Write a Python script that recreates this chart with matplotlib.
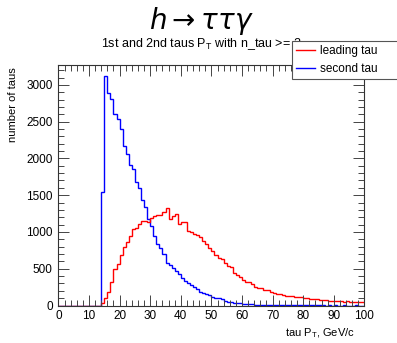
import numpy as np
import matplotlib
matplotlib.use("Agg")
import matplotlib.pyplot as plt
from matplotlib.ticker import MultipleLocator

# 1 GeV bins from 0 to 100
edges = np.arange(0, 101, 1)

second_tau = [0] * 14 + [
    1540, 3115, 2890, 2810, 2605, 2540, 2405, 2170, 2055, 1905,
    1860, 1675, 1595, 1440, 1335, 1175, 1075, 940, 840, 780,
    700, 580, 545, 510, 475, 435, 370, 335, 300, 285,
    255, 230, 190, 175, 155, 140, 120, 100, 98, 82,
    62, 52, 45, 40, 35, 30, 26, 22, 18, 16,
    13, 11, 9, 8, 7, 6, 5, 4, 4, 3,
    3, 3, 2, 2, 2, 2, 1, 1, 1, 1,
    1, 1, 1, 0, 1, 0, 1, 0, 0, 1,
    0, 0, 0, 1, 0, 0,
]

leading_tau = [0] * 14 + [
    30, 100, 190, 320, 500, 560, 690, 800, 870, 950,
    1040, 1055, 1110, 1145, 1155, 1130, 1190, 1220, 1230, 1235,
    1265, 1325, 1180, 1215, 1245, 1108, 1135, 1135, 1007, 993,
    975, 952, 925, 871, 835, 788, 743, 689, 652, 634,
    575, 543, 529, 439, 416, 393, 348, 325, 316, 289,
    257, 243, 234, 215, 205, 190, 170, 160, 155, 140,
    135, 130, 125, 120, 110, 112, 100, 98, 90, 88,
    85, 80, 70, 72, 60, 62, 58, 65, 55, 52,
    55, 50, 48, 52, 45, 44,
]

plt.rcParams['font.family'] = ['Liberation Sans', 'DejaVu Sans']

fig = plt.figure(figsize=(3.97, 3.43), dpi=100)
ax = fig.add_axes([58.4 / 397, 1 - 305.5 / 343, 306 / 397, 240.5 / 343])

ax.stairs(second_tau, edges, color='#0000ff', lw=1.0, label='second tau', baseline=None)
ax.stairs(leading_tau, edges, color='#ff0000', lw=1.0, label='leading tau', baseline=None)

ax.set_xlim(0, 100)
ax.set_ylim(0, 3270)
ax.xaxis.set_major_locator(MultipleLocator(10))
ax.xaxis.set_minor_locator(MultipleLocator(2))
ax.yaxis.set_major_locator(MultipleLocator(500))
ax.yaxis.set_minor_locator(MultipleLocator(100))
ax.tick_params(which='both', direction='in', top=True, right=True, labelsize=8.5,
               width=0.7, color='#444444')
ax.tick_params(which='major', length=8)
ax.tick_params(which='minor', length=4)
ax.tick_params(axis='x', pad=3)
ax.tick_params(axis='y', pad=4)
for s in ax.spines.values():
    s.set_linewidth(0.8)
    s.set_color('#333333')

fig.text(201 / 397, 1 - 21 / 343, r'$h \rightarrow \tau\tau\gamma$', fontsize=20,
         ha='center', va='center')
fig.text(201 / 397, 1 - 44 / 343, r'1st and 2nd taus P$_\mathregular{T}$ with n_tau >= 2',
         fontsize=9, ha='center', va='center')
fig.text(13 / 397, 1 - 67 / 343, 'number of taus', rotation=90, fontsize=8,
         ha='center', va='top')
fig.text(355 / 397, 1 - 333 / 343, r'tau P$_\mathregular{T}$, GeV/c', fontsize=8,
         ha='right', va='center')

h, l = ax.get_legend_handles_labels()
leg = fig.legend(h[::-1], l[::-1], loc='upper left',
                 bbox_to_anchor=(292 / 397, 1 - 78 / 343, 106 / 397, 37 / 343),
                 mode='expand', fontsize=8.5, frameon=True, fancybox=False,
                 edgecolor='#555555', framealpha=1, handlelength=1.6,
                 borderpad=0.35, labelspacing=0.5, handletextpad=0.45, borderaxespad=0)
leg.get_frame().set_linewidth(0.8)
leg.set_zorder(10)

fig.savefig('out.png', dpi=100)
